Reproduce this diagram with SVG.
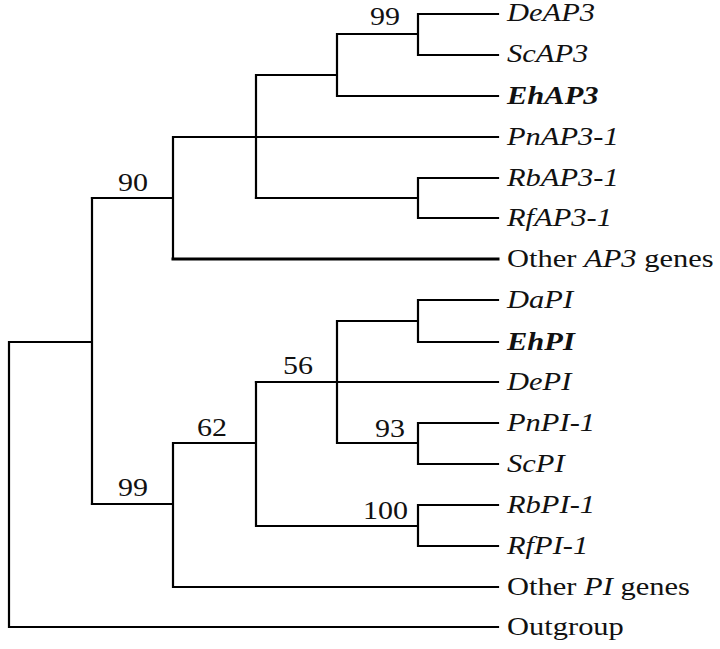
<svg xmlns="http://www.w3.org/2000/svg" width="720" height="649" viewBox="0 0 720 649">
<style>
.br{fill:none;stroke:#000;stroke-width:2.2;stroke-linecap:square;stroke-linejoin:miter}
.thick{stroke-width:3}
.t{font-family:"Liberation Serif","DejaVu Serif",serif;font-size:25px;fill:#111}
.it{font-style:italic}
.b{font-weight:bold}
</style>
<rect width="720" height="649" fill="#fff"/>
<g id="connectors">
<path class="br" d="M418,14 V55 M418,14 H498 M418,55 H498 M337,34 H418 M337,34 V96 H498 M256,75 H337 M256,75 V198"/>
<path class="br" d="M173,137 H498 M418,178 V218 M418,178 H498 M418,218 H498 M256,198 H418 M173,137 V259 M92,198 H173"/>
<path class="br thick" d="M173,259 H498"/>
<path class="br" d="M92,198 V504 M9,342 H92 M9,342 V627 H498"/>
<path class="br" d="M418,300 V342 M418,300 H498 M418,342 H498 M337,321 H418 M337,321 V443 M256,382 H498 M418,423 V464 M418,423 H498 M418,464 H498 M337,443 H418"/>
<path class="br" d="M256,382 V526 M418,505 V546 M418,505 H498 M418,546 H498 M256,526 H418 M173,443 H256 M173,443 V587 H498 M92,504 H173"/>
</g>
<g id="bootstrap" class="t">
<text transform="translate(370,25) scale(1.2,1)">99</text>
<text transform="translate(118,191) scale(1.2,1)">90</text>
<text transform="translate(283,374) scale(1.2,1)">56</text>
<text transform="translate(197,436) scale(1.2,1)">62</text>
<text transform="translate(118,496) scale(1.2,1)">99</text>
<text transform="translate(375,437) scale(1.2,1)">93</text>
<text transform="translate(363,519) scale(1.2,1)">100</text>
</g>
<g id="DeAP3"><text class="t it" transform="translate(507,21) scale(1.22,1)">DeAP3</text></g>
<g id="ScAP3"><text class="t it" transform="translate(507,62) scale(1.22,1)">ScAP3</text></g>
<g id="EhAP3"><text class="t it b" transform="translate(507,104) scale(1.22,1)">EhAP3</text></g>
<g id="PnAP3-1"><text class="t it" transform="translate(507,145) scale(1.22,1)">PnAP3-1</text></g>
<g id="RbAP3-1"><text class="t it" transform="translate(507,186) scale(1.22,1)">RbAP3-1</text></g>
<g id="RfAP3-1"><text class="t it" transform="translate(507,226) scale(1.22,1)">RfAP3-1</text></g>
<g id="OtherAP3"><text class="t" transform="translate(507,267) scale(1.22,1)">Other <tspan class="it">AP3</tspan> genes</text></g>
<g id="DaPI"><text class="t it" transform="translate(507,308) scale(1.22,1)">DaPI</text></g>
<g id="EhPI"><text class="t it b" transform="translate(507,350) scale(1.22,1)">EhPI</text></g>
<g id="DePI"><text class="t it" transform="translate(507,390) scale(1.22,1)">DePI</text></g>
<g id="PnPI-1"><text class="t it" transform="translate(507,431) scale(1.22,1)">PnPI-1</text></g>
<g id="ScPI"><text class="t it" transform="translate(507,472) scale(1.22,1)">ScPI</text></g>
<g id="RbPI-1"><text class="t it" transform="translate(507,513) scale(1.22,1)">RbPI-1</text></g>
<g id="RfPI-1"><text class="t it" transform="translate(507,554) scale(1.22,1)">RfPI-1</text></g>
<g id="OtherPI"><text class="t" transform="translate(507,595) scale(1.22,1)">Other <tspan class="it">PI</tspan> genes</text></g>
<g id="Outgroup"><text class="t" transform="translate(507,635) scale(1.22,1)">Outgroup</text></g>
</svg>
